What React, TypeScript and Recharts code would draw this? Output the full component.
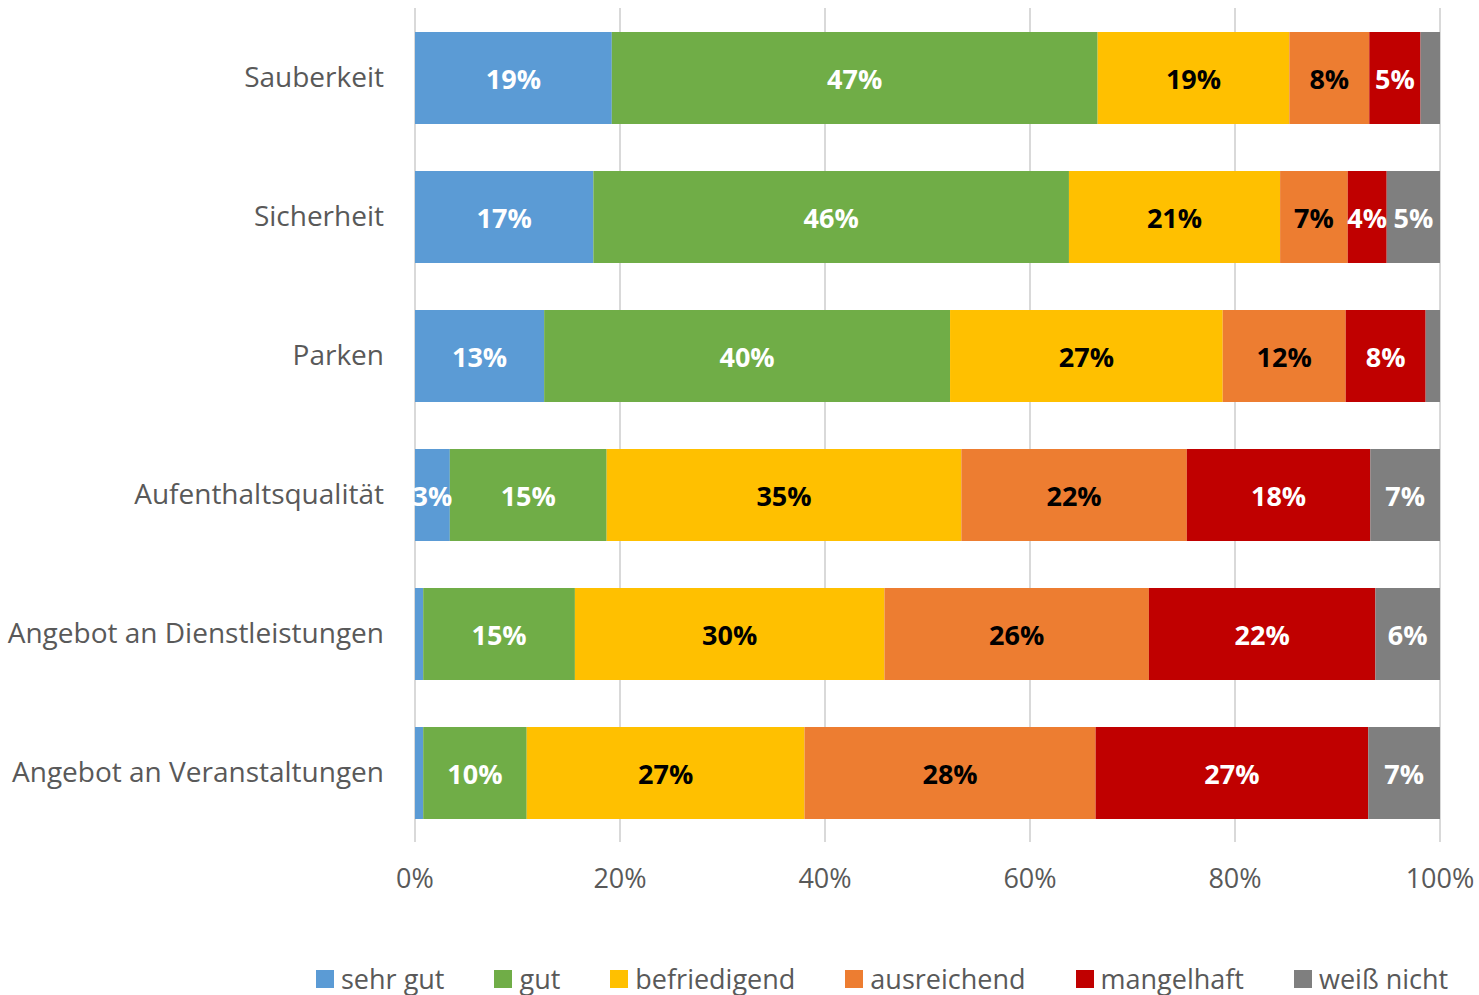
import React from 'react';
import { BarChart, Bar, XAxis, YAxis, CartesianGrid, Legend, LabelList } from 'recharts';

const categories = [
  'Sauberkeit',
  'Sicherheit',
  'Parken',
  'Aufenthaltsqualität',
  'Angebot an Dienstleistungen',
  'Angebot an Veranstaltungen',
];

const sehrGut = [19.2, 17.4, 12.6, 3.4, 0.8, 0.8];
const gut = [47.4, 46.4, 39.6, 15.3, 14.8, 10.1];
const befriedigend = [18.7, 20.6, 26.6, 34.6, 30.2, 27.1];
const ausreichend = [7.8, 6.6, 12.0, 22.0, 25.8, 28.4];
const mangelhaft = [5.0, 3.8, 7.8, 17.9, 22.1, 26.6];
const weissNicht = [1.9, 5.2, 1.4, 6.8, 6.3, 7.0];

const xTicks = [0, 20, 40, 60, 80, 100];

const series = [
  { key: 'sehrGut', name: 'sehr gut', color: '#5B9BD5', text: '#FFFFFF', values: sehrGut },
  { key: 'gut', name: 'gut', color: '#70AD47', text: '#FFFFFF', values: gut },
  { key: 'befriedigend', name: 'befriedigend', color: '#FFC000', text: '#000000', values: befriedigend },
  { key: 'ausreichend', name: 'ausreichend', color: '#ED7D31', text: '#000000', values: ausreichend },
  { key: 'mangelhaft', name: 'mangelhaft', color: '#C00000', text: '#FFFFFF', values: mangelhaft },
  { key: 'weissNicht', name: 'weiß nicht', color: '#7F7F7F', text: '#FFFFFF', values: weissNicht },
];

const data = categories.map((name, i) => {
  const row: Record<string, string | number> = { name };
  series.forEach(s => { row[s.key] = s.values[i]; });
  return row;
});

const FONT = '"Open Sans", sans-serif';

// small segments (< 2%) get no label, like in the original
const makeLabel = (color: string) => (props: any) => {
  const { x, y, width, height, value } = props;
  if (value == null || value < 2) return null;
  return (
    <text
      x={x + width / 2}
      y={y + height / 2}
      fill={color}
      textAnchor="middle"
      dominantBaseline="central"
      fontFamily={FONT}
      fontWeight="bold"
      fontSize={27}
    >
      {`${Math.round(value)}%`}
    </text>
  );
};

const LegendContent = () => (
  <div style={{ display: 'flex', flexWrap: 'nowrap', whiteSpace: 'nowrap', paddingLeft: 316, paddingTop: 42, fontFamily: FONT, fontSize: 27, color: '#595959', width: 1479, boxSizing: 'border-box' }}>
    {series.map(s => (
      <div key={s.key} style={{ display: 'flex', alignItems: 'center', marginRight: 50, flexShrink: 0 }}>
        <span style={{ width: 18, height: 18, background: s.color, marginRight: 7, display: 'inline-block', flexShrink: 0 }} />
        <span style={{ lineHeight: '30px' }}>{s.name}</span>
      </div>
    ))}
  </div>
);

export default function App() {
  return (
    <div style={{ position: 'absolute', left: 0, top: 0, background: '#fff' }}>
      <BarChart
        width={1479}
        height={995}
        data={data}
        layout="vertical"
        barSize={92}
        margin={{ top: 8, right: 39, bottom: 0, left: 0 }}
      >
        <CartesianGrid horizontal={false} stroke="#D9D9D9" strokeWidth={2} />
        <XAxis
          type="number"
          domain={[0, 100]}
          ticks={xTicks}
          tickFormatter={(v) => `${v}%`}
          axisLine={false}
          tickLine={false}
          tickSize={0}
          tickMargin={27}
          height={80}
          tick={{ fill: '#595959', fontSize: 27, fontFamily: FONT }}
          interval={0}
        />
        <YAxis
          type="category"
          dataKey="name"
          width={415}
          axisLine={false}
          tickLine={false}
          tickSize={0}
          tickMargin={31}
          tick={{ fill: '#595959', fontSize: 28, fontFamily: FONT }}
          interval={0}
        />
        <Legend verticalAlign="bottom" height={73} content={LegendContent} />
        {series.map(s => (
          <Bar key={s.key} dataKey={s.key} name={s.name} stackId="a" fill={s.color} isAnimationActive={false}>
            <LabelList dataKey={s.key} content={makeLabel(s.text)} />
          </Bar>
        ))}
      </BarChart>
    </div>
  );
}
